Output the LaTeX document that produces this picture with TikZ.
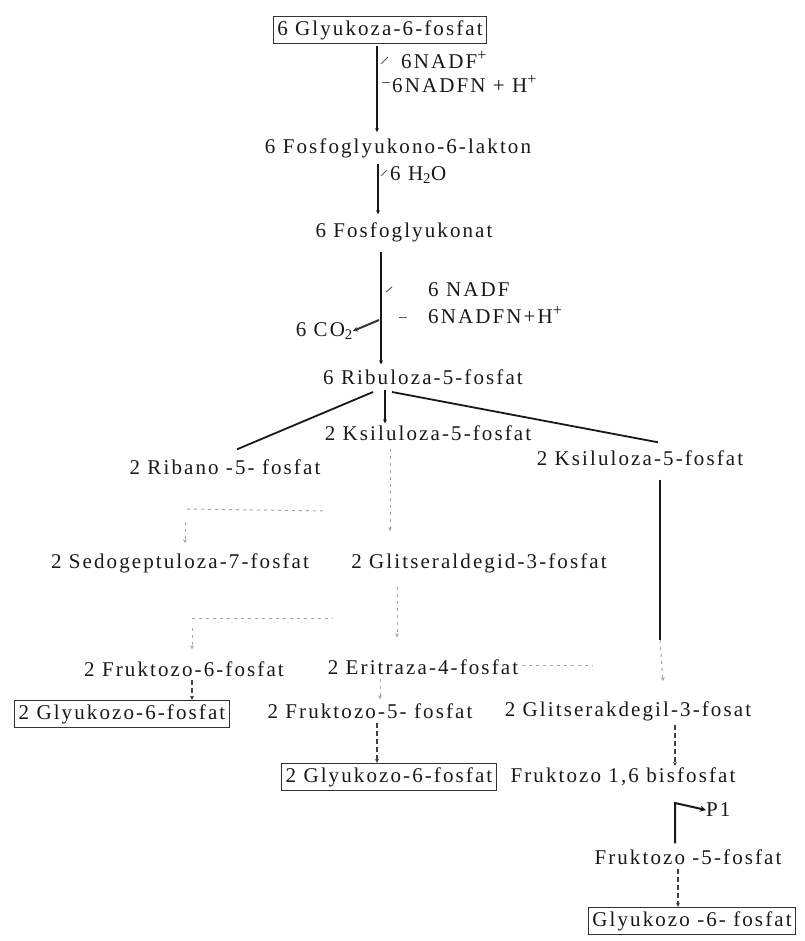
\documentclass[tikz,border=0pt]{standalone}
\usepackage{fontspec}
\setmainfont{Liberation Serif}[LetterSpace=10]
\usetikzlibrary{arrows.meta,calc}
\newcommand{\upplus}{\raisebox{0.75ex}{\fontsize{16}{16}\selectfont +}}
\tikzset{
  txt/.style={inner sep=0pt, text=black!90, font=\fontsize{21}{24}\selectfont},
  boxed/.style={txt, draw=black!80, line width=0.9pt, inner xsep=4pt, inner ysep=4pt},
  mainline/.style={line width=2pt, black!90, -{Stealth[length=4pt,width=4pt]}},
  plainline/.style={line width=1.8pt, black!90},
  faint/.style={line width=1pt, black!35, dash pattern=on 3pt off 4pt},
  faintarr/.style={faint, -{Stealth[length=4pt,width=4pt]}},
  dasharr/.style={line width=1.6pt, black!75, dash pattern=on 5pt off 3pt, -{Stealth[length=4pt,width=4pt]}},
  tick/.style={line width=1pt, black!65},
}
\begin{document}
\begin{tikzpicture}[x=1pt,y=-1pt]
\useasboundingbox (0,0) rectangle (804,941);
\fill[white] (0,0) rectangle (804,941);

% nodes
\node[boxed] (g6p) at (380,30) {6 Glyukoza-6-fosfat};
\node[txt, anchor=west] (nadf1) at (401,60) {6NADF\upplus};
\node[txt, anchor=west] (nadfh1) at (392,84) {6NADFN + H\upplus};
\node[txt] (lak) at (398,148) {6 Fosfoglyukono-6-lakton};
\node[txt, anchor=west] (h2o) at (390,175) {6 H\textsubscript{2}O};
\node[txt] (fglk) at (404,232) {6 Fosfoglyukonat};
\node[txt, anchor=west] (nadf2) at (428,290) {6 NADF};
\node[txt, anchor=west] (nadfh2) at (428,315) {6NADFN+H\upplus};
\node[txt, anchor=east] (co2) at (353,331) {6 CO\textsubscript{2}};
\node[txt] (rib) at (423,377) {6 Ribuloza-5-fosfat};
\node[txt] (ksl1) at (428,433) {2 Ksiluloza-5-fosfat};
\node[txt] (ribano) at (225,467) {2 Ribano -5- fosfat};
\node[txt] (ksl2) at (640,458) {2 Ksiluloza-5-fosfat};
\node[txt] (sedo) at (180,563) {2 Sedogeptuloza-7-fosfat};
\node[txt] (glts) at (479,563) {2 Glitseraldegid-3-fosfat};
\node[txt] (fr6) at (184,669) {2 Fruktozo-6-fosfat};
\node[txt] (eri) at (423,667) {2 Eritraza-4-fosfat};
\node[boxed] (gbox1) at (122,714) {2 Glyukozo-6-fosfat};
\node[txt] (fr5) at (370,711) {2 Fruktozo-5- fosfat};
\node[txt] (gltk) at (628,711) {2 Glitserakdegil-3-fosat};
\node[boxed] (gbox2) at (389,777) {2 Glyukozo-6-fosfat};
\node[txt] (fr16) at (623,777) {Fruktozo 1,6 bisfosfat};
\node[txt, anchor=west] (p1) at (706,810) {P1};
\node[txt] (fr5b) at (688,857) {Fruktozo -5-fosfat};
\node[boxed] (gbox3) at (692,921) {Glyukozo -6- fosfat};

% axis coordinates
\coordinate (xa) at (377,0);
\coordinate (xb) at (378,0);
\coordinate (xc) at (381,0);
\coordinate (xd) at (385,0);
\coordinate (xr) at (660,0);
\coordinate (xf6) at (192,0);
\coordinate (xf5) at (377,0);
\coordinate (xg) at (675,0);
\coordinate (xh) at (678,0);

% main chain
\draw[mainline] ($(g6p.south -| xa)+(0,2)$) -- ($(lak.north -| xa)+(0,-6)$);
\draw[tick] (388,57) -- (381,64);
\draw[tick] (382,83) -- (390,83);
\draw[mainline] ($(lak.south -| xb)+(0,6)$) -- ($(fglk.north -| xb)+(0,-8)$);
\draw[tick] (387,170) -- (381,176);
\draw[mainline] ($(fglk.south -| xc)+(0,10)$) -- ($(rib.north -| xc)+(0,-5)$);
\draw[tick] (392,287) -- (386,292);
\draw[tick] (399,317) -- (407,317);
\draw[line width=2pt, black!80, -{Stealth[length=5pt,width=5pt]}] (379,320) -- (co2.east);

% branches from ribuloza
\coordinate (rl) at (373,392);
\coordinate (rr) at (392,392);
\draw[plainline] (rl) -- ($(ribano.north)+(12,-10)$);
\draw[mainline] ($(rib.south -| xd)+(0,5)$) -- ($(ksl1.north -| xd)+(0,-2)$);
\draw[plainline] (rr) -- ($(ksl2.north)+(18,-8)$);

% right column
\draw[plainline] ($(ksl2.south -| xr)+(0,14)$) -- (660,640);
\draw[faintarr] (660,640) -- ($(gltk.north -| xr)+(3,-20)$);

% faint transketolase / transaldolase
\draw[faint] (187,509) -- (325,511);
\draw[faintarr] (185,522) -- ($(sedo.north -| 185,0)+(0,-10)$);
\draw[faintarr] ($(ksl1.south -| 390,0)+(0,8)$) -- ($(glts.north -| 390,0)+(0,-22)$);
\draw[faint] (192,618) -- (333,618);
\draw[faintarr] ($(glts.south -| 397,0)+(0,14)$) -- ($(eri.north -| 397,0)+(0,-22)$);
\draw[faintarr] (192,628) -- ($(fr6.north -| xf6)+(0,-12)$);
\draw[faint] ($(eri.east)+(4,-2)$) -- (593,665);
\draw[faintarr] ($(eri.south -| 380,0)+(0,4)$) -- ($(fr5.north -| 380,0)+(0,-4)$);

% down to glucose boxes
\draw[dasharr] ($(fr6.south -| xf6)+(0,3)$) -- (gbox1.north -| xf6);
\draw[dasharr] ($(fr5.south -| xf5)+(0,4)$) -- (gbox2.north -| xf5);
\draw[dasharr] ($(gltk.south -| xg)+(0,4)$) -- ($(fr16.north -| xg)+(0,-2)$);

% bent arrow to P1
\coordinate (bend) at (675,803);
\draw[line width=2pt, black!90, -{Stealth[length=6pt,width=6pt]}] ($(fr5b.north -| xg)+(0,-6)$) -- (bend) -- (p1.west);
\draw[dasharr] ($(fr5b.south -| xh)+(0,4)$) -- (gbox3.north -| xh);
\end{tikzpicture}
\end{document}
